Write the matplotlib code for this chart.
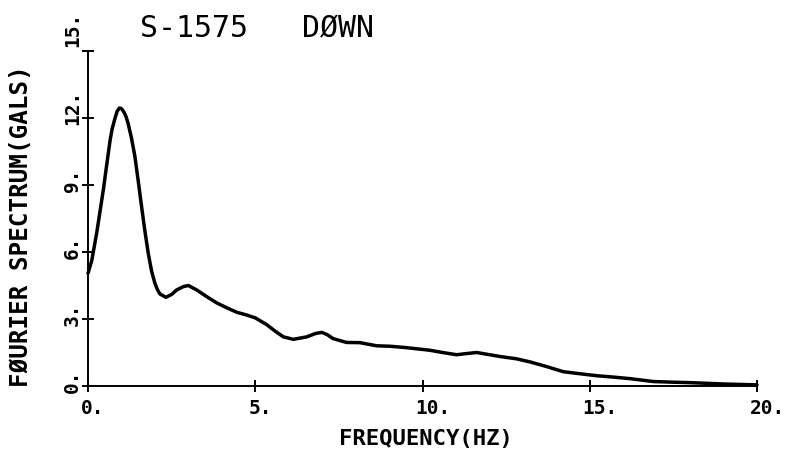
import matplotlib
matplotlib.use("Agg")
import matplotlib.pyplot as plt
from matplotlib.transforms import ScaledTranslation

# Fourier amplitude spectrum, vertical component of record S-1575
freq_hz = [0.0, 0.11, 0.26, 0.46, 0.55, 0.66, 0.72, 0.80, 0.87, 0.94, 1.00,
           1.08, 1.14, 1.20, 1.30, 1.40, 1.50, 1.60, 1.70, 1.80, 1.90, 2.00,
           2.08, 2.15, 2.33, 2.50, 2.65, 2.85, 3.00, 3.25, 3.55, 3.85, 4.15,
           4.45, 4.74, 5.00, 5.34, 5.60, 5.84, 6.14, 6.54, 6.80, 6.99, 7.15,
           7.33, 7.73, 8.13, 8.63, 9.03, 9.50, 10.22, 10.60, 11.02, 11.30,
           11.62, 12.32, 12.80, 13.21, 13.71, 14.21, 14.70, 15.21, 15.70,
           16.20, 16.90, 17.50, 18.00, 18.50, 19.00, 19.50, 20.00]
spectrum_gals = [5.05, 5.60, 6.85, 8.80, 9.80, 11.00, 11.50, 11.95, 12.30,
                 12.45, 12.42, 12.25, 12.05, 11.75, 11.10, 10.30, 9.20, 8.05,
                 6.95, 5.95, 5.15, 4.60, 4.30, 4.12, 3.97, 4.10, 4.30, 4.45,
                 4.50, 4.30, 4.00, 3.72, 3.50, 3.30, 3.18, 3.05, 2.75, 2.45,
                 2.20, 2.09, 2.20, 2.35, 2.40, 2.30, 2.12, 1.95, 1.94, 1.80,
                 1.78, 1.72, 1.60, 1.50, 1.40, 1.45, 1.50, 1.32, 1.22, 1.08,
                 0.87, 0.64, 0.55, 0.46, 0.40, 0.33, 0.20, 0.17, 0.15, 0.12,
                 0.09, 0.07, 0.05]

x_ticks = [0, 5, 10, 15, 20]
x_tick_labels = ["0.", "5.", "10.", "15.", "20."]
y_ticks = [0, 3, 6, 9, 12, 15]
y_tick_labels = ["0.", "3.", "6.", "9.", "12.", "15."]

title_text = "S-1575   D\u00d8WN"
x_label = "FREQUENCY(HZ)"
y_label = "F\u00d8URIER SPECTRUM(GALS)"

mono = "DejaVu Sans Mono"

fig = plt.figure(figsize=(7.89, 4.51), dpi=100)
ax = fig.add_axes([88 / 789, 1 - 386 / 451, (757 - 88) / 789, (386 - 51) / 451])

ax.plot(freq_hz, spectrum_gals, color="black", lw=2.5,
        solid_joinstyle="round", solid_capstyle="round", clip_on=False)

ax.set_xlim(0, 20)
ax.set_ylim(0, 15)
for side in ("top", "right"):
    ax.spines[side].set_visible(False)
for side in ("left", "bottom"):
    ax.spines[side].set_linewidth(1.4)

ax.set_xticks(x_ticks)
ax.set_xticklabels(x_tick_labels, fontfamily=mono, fontsize=14,
                   fontweight="bold", ha="left")
ax.set_yticks(y_ticks)
ax.set_yticklabels(y_tick_labels, fontfamily=mono, fontsize=14,
                   fontweight="bold", rotation=90, va="bottom")
ax.tick_params(axis="both", direction="inout", length=9, width=1.4, colors="black")
ax.tick_params(axis="x", pad=5)
ax.tick_params(axis="y", pad=0)

# the first digit of each label sits centred on its tick
for lab in ax.get_xticklabels():
    lab.set_transform(lab.get_transform()
                      + ScaledTranslation(-7 / 100, 0, fig.dpi_scale_trans))
for lab, val in zip(ax.get_yticklabels(), y_ticks):
    dy = -7 if val < 15 else 4
    lab.set_transform(lab.get_transform()
                      + ScaledTranslation(0, dy / 100, fig.dpi_scale_trans))

fig.text(257 / 789, 1 - 37 / 451, title_text, fontfamily=mono, fontsize=21.5,
         ha="center", va="baseline")
fig.text(426 / 789, 1 - 445 / 451, x_label, fontfamily=mono, fontsize=16,
         fontweight="bold", ha="center", va="baseline")
fig.text(33 / 789, 1 - 226 / 451, y_label, fontfamily=mono, fontsize=17.5,
         fontweight="bold", rotation=90, ha="right", va="center")

fig.savefig("out.png", dpi=100)
